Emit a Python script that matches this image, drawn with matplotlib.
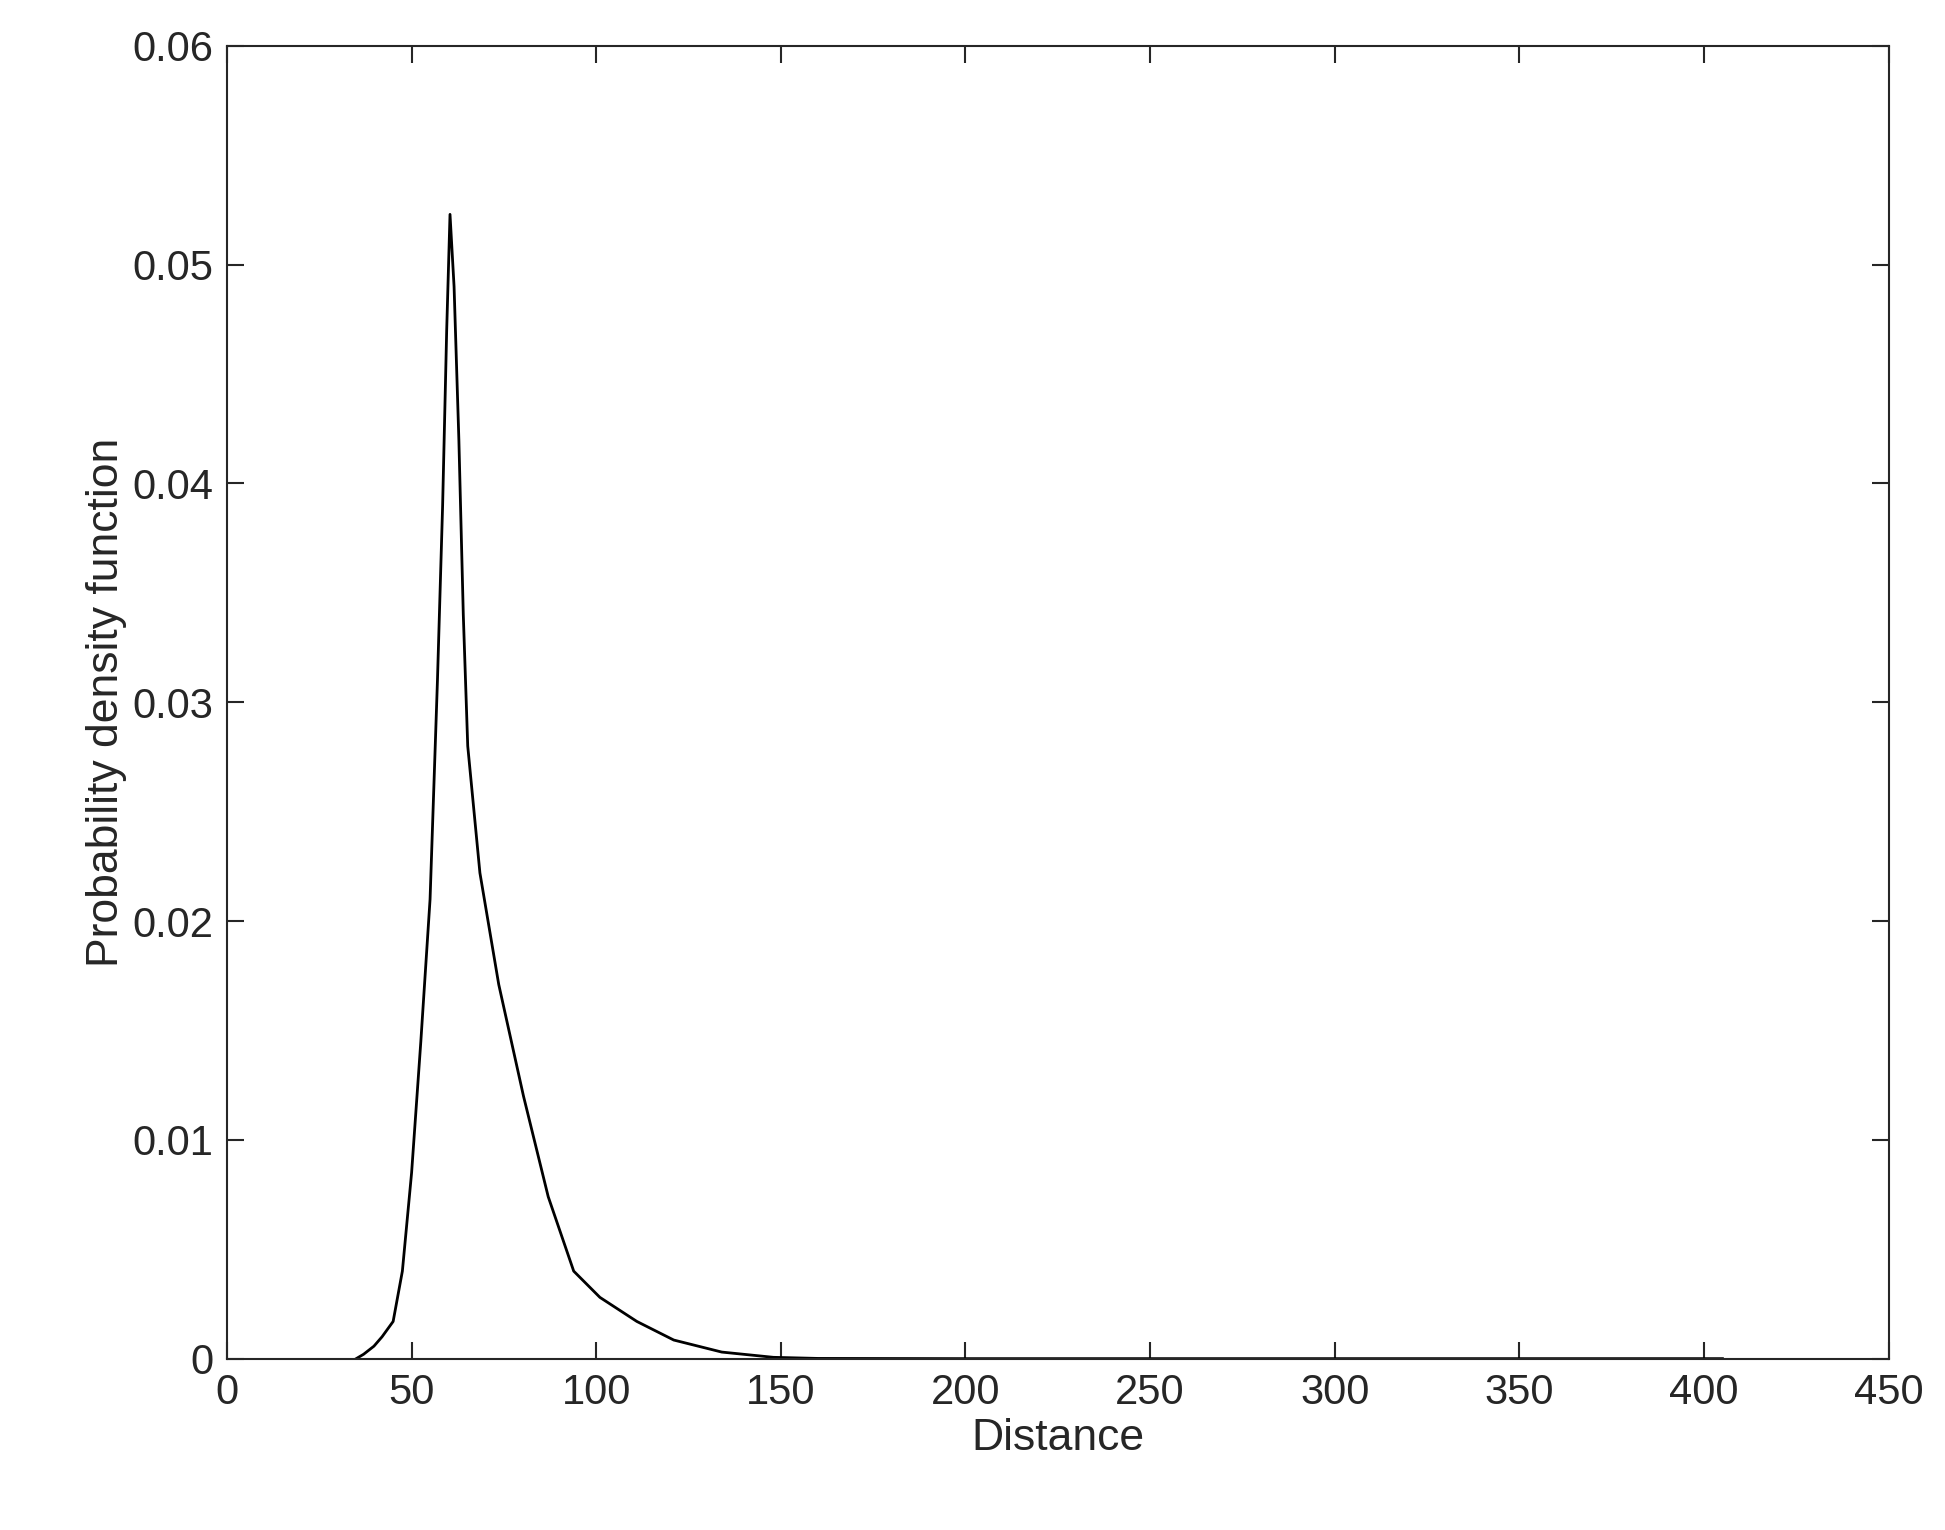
import matplotlib
matplotlib.use("Agg")
import matplotlib.pyplot as plt

distance = [35, 37, 39.8, 42, 45, 47.5, 50, 52.5, 55, 57, 58.4, 59.5, 60.4, 61.5, 62.8, 64, 65.2, 68.5, 73.6, 80.3, 87, 93.9, 101, 111, 121, 134, 148, 160, 200, 300, 405]
pdf = [0, 0.0002, 0.00057, 0.001, 0.0017, 0.004, 0.0085, 0.0145, 0.021, 0.031, 0.039, 0.047, 0.0523, 0.049, 0.042, 0.034, 0.028, 0.0222, 0.0171, 0.012, 0.0074, 0.004, 0.0028, 0.0017, 0.00085, 0.0003, 0.00006, 0.00001, 0, 0, 0]
xticks = [0, 50, 100, 150, 200, 250, 300, 350, 400, 450]
yticks = [0, 0.01, 0.02, 0.03, 0.04, 0.05, 0.06]
yticklabels = ["0", "0.01", "0.02", "0.03", "0.04", "0.05", "0.06"]

plt.rcParams['font.family'] = ['Liberation Sans', 'DejaVu Sans']
fig = plt.figure(figsize=(19.45, 15.3), dpi=100)
ax = fig.add_axes([0.1167, 0.112, 0.8543, 0.858])
ax.plot(distance, pdf, color='black', lw=2)
ax.set_xlim(0, 450)
ax.set_ylim(0, 0.06)
ax.set_xticks(xticks)
ax.set_yticks(yticks)
ax.set_yticklabels(yticklabels)
ax.tick_params(direction='in', top=True, right=True, labelsize=30, length=12, width=1.5, colors='#262626', labelcolor='#262626', pad=10)
for s in ax.spines.values():
    s.set_linewidth(1.5)
    s.set_color('#262626')
ax.set_xlabel('Distance', fontsize=32, color='#262626')
ax.set_ylabel('Probability density function', fontsize=32, color='#262626')
fig.savefig('out.png', dpi=100)
